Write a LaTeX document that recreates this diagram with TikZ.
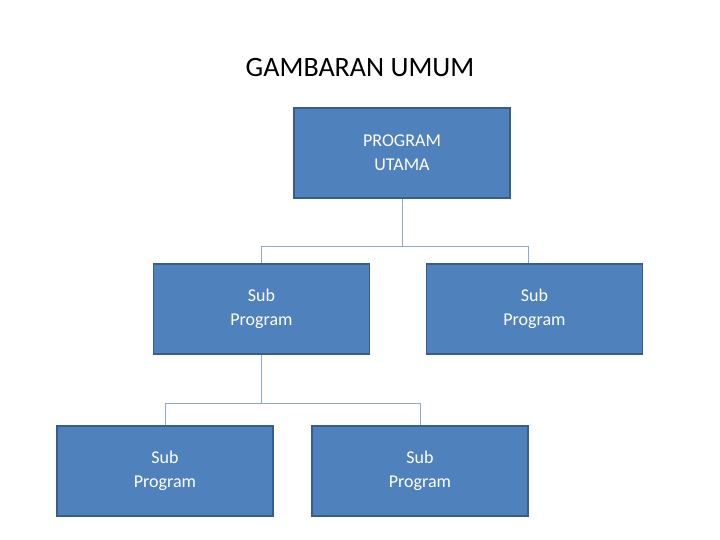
\documentclass[tikz,border=0pt]{standalone}
\usepackage{fontspec}
\setmainfont{Carlito}
\definecolor{boxfill}{HTML}{4F81BD}
\definecolor{boxdraw}{HTML}{385D8A}
\definecolor{linkcol}{HTML}{8EA9C8}
\begin{document}
\begin{tikzpicture}[x=1pt,y=-1pt,
        progbox/.style={rectangle, draw=boxdraw, fill=boxfill, line width=1.5pt, minimum width=216pt, minimum height=90pt, align=center, font=\fontsize{18}{24}\selectfont, text=white},
        link/.style={draw=linkcol, line width=0.8pt},
    ]
        \useasboundingbox (0,0) rectangle (720,540);
        %Nodes
        \node (title) at (360,68) {\fontsize{28}{32}\selectfont GAMBARAN UMUM};
        \node[progbox] (utama) at (402,153) {PROGRAM\\UTAMA};
        \node[progbox] (subl) at (261.5,309) {Sub\\Program};
        \node[progbox] (subr) at (534.5,309) {Sub\\Program};
        \node[progbox] (subll) at (165,471) {Sub\\Program};
        \node[progbox] (sublr) at (420,471) {Sub\\Program};

        \coordinate (j1) at (402,246);
        \coordinate (j2) at (261.5,403);

        %Lines
        \draw[link] (utama.south) -- (j1) -| (subl.north);
        \draw[link] (j1) -| ([xshift=-6.5pt]subr.north);
        \draw[link] (subl.south) -- (j2) -| (subll.north);
        \draw[link] (j2) -| (sublr.north);
    \end{tikzpicture}
\end{document}
